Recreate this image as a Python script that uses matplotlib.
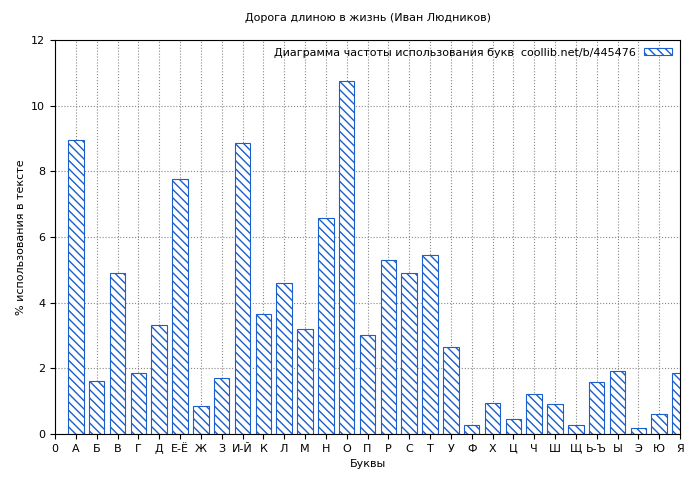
import matplotlib
matplotlib.use("Agg")
import matplotlib.pyplot as plt

labels = ['0','А','Б','В','Г','Д','Е-Ё','Ж','З','И-Й','К','Л','М','Н','О','П','Р','С','Т','У','Ф','Х','Ц','Ч','Ш','Щ','Ь-Ъ','Ы','Э','Ю','Я']
values = [8.95,1.62,4.9,1.86,3.32,7.77,0.85,1.7,8.87,3.66,4.6,3.2,6.58,10.76,3.02,5.3,4.9,5.46,2.65,0.27,0.94,0.46,1.22,0.91,0.27,1.58,1.92,0.18,0.61,1.86]

plt.rcParams['font.family'] = ['DejaVu Sans']
fig = plt.figure(figsize=(7, 4.8), dpi=100)
ax = fig.add_axes([55/700, 46/480, 625/700, 394/480])
pos = list(range(1, len(values)+1))
ax.bar(pos, values, width=0.75, color='white', edgecolor='#1a5fcc', hatch='\\\\\\\\', linewidth=0.8,
       label='Диаграмма частоты использования букв  coollib.net/b/445476')
plt.rcParams['hatch.color'] = '#1a5fcc'
ax.set_xlim(0, 30)
ax.set_ylim(0, 12)
ax.set_xticks(range(31))
ax.set_xticklabels(labels, fontsize=8)
ax.set_yticks(range(0, 13, 2))
ax.tick_params(labelsize=8)
ax.grid(True, linestyle=':', color='#888888', linewidth=0.8)
ax.set_axisbelow(True)
ax.set_xlabel('Буквы', fontsize=8)
ax.set_ylabel('% использования в тексте', fontsize=8)
ax.set_title('Дорога длиною в жизнь (Иван Людников)', fontsize=8, pad=14)
ax.legend(loc='upper right', fontsize=8, frameon=False, handlelength=2.5, handleheight=0.6,
          markerfirst=False, borderaxespad=0.3)
fig.savefig('out.png', dpi=100)
